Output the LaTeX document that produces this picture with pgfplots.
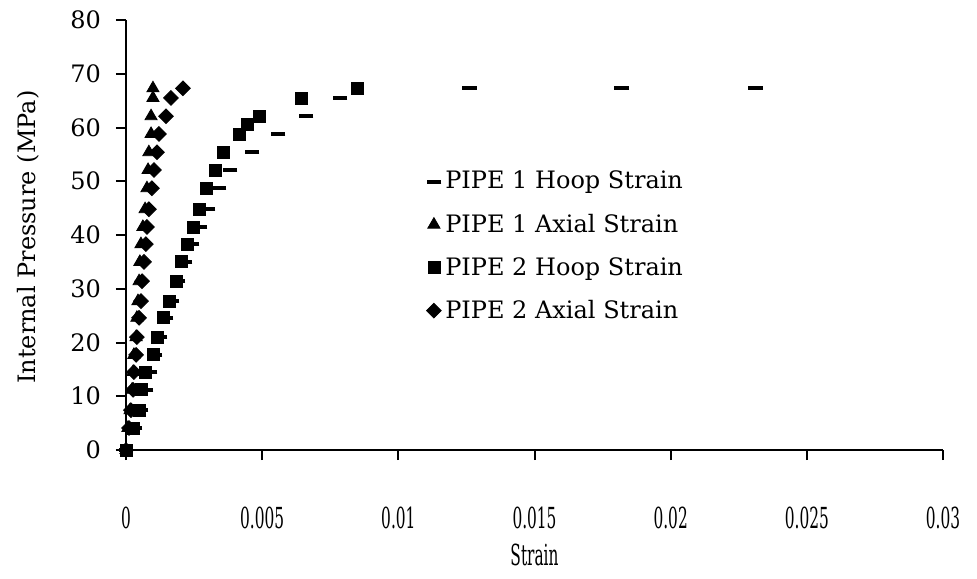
\documentclass[border=0pt]{standalone}
\usepackage{pgfplots}
\pgfplotsset{compat=1.18}
\usepackage{fontspec}
\setmainfont{DejaVu Serif}
\newfontfamily\condfont{DejaVu Serif}[FakeStretch=0.53]

\begin{document}
\begin{tikzpicture}[font=\fontsize{12}{14}\selectfont]
\begin{axis}[
    name=ax,
    scale only axis,
    width=408.5pt,
    height=215pt,
    xmin=0, xmax=0.03,
    ymin=0, ymax=80,
    xtick={0,0.005,...,0.03},
    ytick={0,10,...,80},
    scaled x ticks=false,
    /pgf/number format/assume math mode=true,
    xticklabel={\pgfmathprintnumber[fixed,precision=3]{\tick}},
    axis x line=bottom,
    axis y line=left,
    axis line style={-, line width=1pt},
    tick align=outside,
    major tick length=5pt,
    every tick/.style={black, line width=1pt},
    xticklabel style={font=\condfont\fontsize{14.5}{16}\selectfont, yshift=-20pt},
    yticklabel style={xshift=-4pt},
    xlabel={Strain},
    ylabel={Internal Pressure (MPa)},
    xlabel style={font=\condfont\fontsize{14.5}{16}\selectfont, at={(axis description cs:0.5,-0.245)}, anchor=center},
    ylabel style={at={(axis description cs:-0.12,0.495)}, anchor=center},
    legend style={at={(0.36,0.668)}, anchor=north west, draw=none, fill=none,
                  row sep=7pt, font=\fontsize{12}{14}\selectfont},
    legend cell align=left,
    clip=false,
]
% PIPE 1 hoop strain
\addplot[only marks, mark=-, mark size=3.7pt, mark options={line width=2pt}] coordinates {
 (0,0) (0.00033,4.1) (0.00055,7.4) (0.00073,11.2) (0.00088,14.5) (0.00106,17.7)
 (0.00125,21.0) (0.00147,24.6) (0.00169,27.7) (0.00191,31.4) (0.00217,35.0)
 (0.00242,38.3) (0.00272,41.5) (0.00301,44.8) (0.00341,48.7) (0.00382,52.1)
 (0.00463,55.4) (0.00558,58.8) (0.00661,62.1) (0.00786,65.5)
 (0.0126,67.3) (0.0182,67.3) (0.0231,67.3)
};
\addlegendentry{PIPE 1 Hoop Strain}
% PIPE 1 axial strain
\addplot[only marks, mark=triangle*, mark size=3.5pt] coordinates {
 (0,0) (0.00007,4.1) (0.00015,7.4) (0.00022,11.2) (0.00026,14.5) (0.00029,17.7)
 (0.00037,21.0) (0.00040,24.6) (0.00044,27.7) (0.00048,31.4) (0.00051,35.0)
 (0.00055,38.3) (0.00062,41.5) (0.00070,44.8) (0.00077,48.7) (0.00081,52.1)
 (0.00084,55.4) (0.00092,58.8) (0.00092,62.1) (0.00099,65.5) (0.00099,67.3)
};
\addlegendentry{PIPE 1 Axial Strain}
% PIPE 2 hoop strain
\addplot[only marks, mark=square*, mark size=3pt] coordinates {
 (0,0) (0.00026,4.1) (0.00048,7.4) (0.00058,11.2) (0.00070,14.5) (0.00099,17.7)
 (0.00114,21.0) (0.00136,24.6) (0.00158,27.7) (0.00184,31.4) (0.00202,35.0)
 (0.00224,38.3) (0.00246,41.5) (0.00268,44.8) (0.00297,48.7) (0.00327,52.1)
 (0.00356,55.4) (0.00415,58.8) (0.00444,60.6) (0.00488,62.1) (0.00643,65.5)
 (0.00848,67.3)
};
\addlegendentry{PIPE 2 Hoop Strain}
% PIPE 2 axial strain
\addplot[only marks, mark=square*, mark size=2.6pt, mark options={rotate=45}] coordinates {
 (0,0) (0.00011,4.1) (0.00018,7.4) (0.00026,11.2) (0.00029,14.5) (0.00037,17.7)
 (0.00040,21.0) (0.00048,24.6) (0.00055,27.7) (0.00059,31.4) (0.00066,35.0)
 (0.00073,38.3) (0.00077,41.5) (0.00084,44.8) (0.00095,48.7) (0.00103,52.1)
 (0.00114,55.4) (0.00121,58.8) (0.00147,62.1) (0.00165,65.5) (0.00209,67.3)
};
\addlegendentry{PIPE 2 Axial Strain}
\end{axis}
\path[use as bounding box] (ax.south west) ++(-63pt,-64pt) rectangle ++(488.5pt,289pt);
\end{tikzpicture}
\end{document}
